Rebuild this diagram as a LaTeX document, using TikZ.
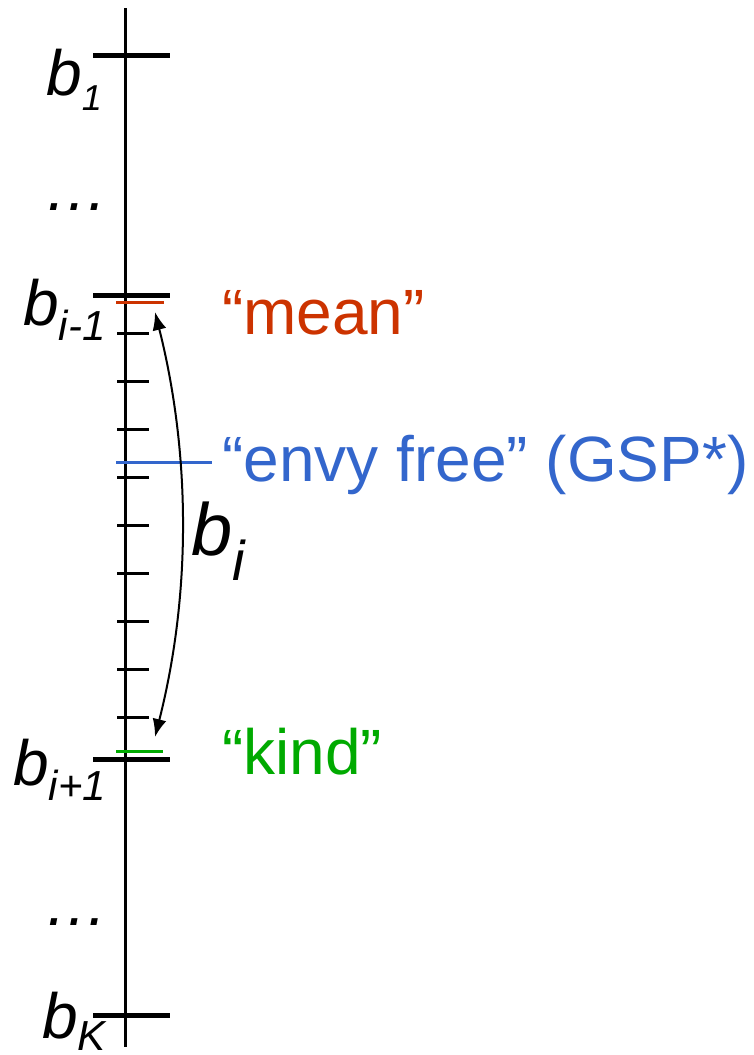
\documentclass[tikz,border=0pt]{standalone}
\usepackage{fontspec}
\setmainfont{Liberation Sans}
\usetikzlibrary{arrows.meta}
\definecolor{meanred}{RGB}{204,51,0}
\definecolor{envyblue}{RGB}{51,102,204}
\definecolor{kindgreen}{RGB}{0,170,0}
% b with a lowered subscript: {sub}{drop}{size}
\newcommand{\bvar}[3]{b\raisebox{-#2pt}{\fontsize{#3}{#3}\selectfont #1}}

\begin{document}
\begin{tikzpicture}[
    x=1pt, y=-1pt,
    axis/.style={line width=3pt},
    bigtick/.style={line width=5pt},
    smalltick/.style={line width=3pt},
    bidlab/.style={inner sep=0, anchor=base west, font=\fontsize{64}{64}\selectfont\itshape},
    quot/.style={inner sep=0, anchor=base west, font=\fontsize{64}{64}\selectfont}
]
  \useasboundingbox (0,0) rectangle (754,1055);

  % axis
  \draw[axis] (125,8) -- (125,1047);

  % bid levels
  \foreach \y in {55,295,759,1015}
    \draw[bigtick] (93,\y) -- (170,\y);
  \foreach \y in {333,381,...,717}
    \draw[smalltick] (117,\y) -- (149,\y);

  % marked bids
  \draw[smalltick, meanred] (116,302) -- (164,302);
  \draw[smalltick, envyblue] (116,462) -- (212,462);
  \draw[smalltick, kindgreen] (116,751) -- (163,751);

  % labels on the left
  \node[bidlab] (b1) at (46,95) {\bvar{1}{15}{36}};
  \node[bidlab] (dots1) at (44,210) {…};
  \node[bidlab] (bim) at (23,325) {\bvar{i-1}{15}{42}};
  \node[bidlab] (bip) at (13,785) {\bvar{i+1}{15}{42}};
  \node[bidlab] (dots2) at (44,925) {…};
  \node[bidlab] (bK) at (42,1038) {\bvar{K}{12}{42}};

  % range of b_i
  \coordinate (up) at (155,312);
  \coordinate (down) at (155,737);
  \draw[{Latex[length=18pt,width=14pt]}-{Latex[length=18pt,width=14pt]}, line width=2pt]
    (up) .. controls (191,455) and (191,595) .. (down);
  \node[bidlab, font=\fontsize{74}{74}\selectfont\itshape] (bi) at (191,555) {\bvar{i}{25}{56}};

  % strategies
  \node[quot, meanred] (mean) at (222,334) {“mean”};
  \node[quot, envyblue] (envy) at (222,481) {“envy free” (GSP*)};
  \node[quot, kindgreen] (kind) at (222,774) {“kind”};
\end{tikzpicture}
\end{document}
